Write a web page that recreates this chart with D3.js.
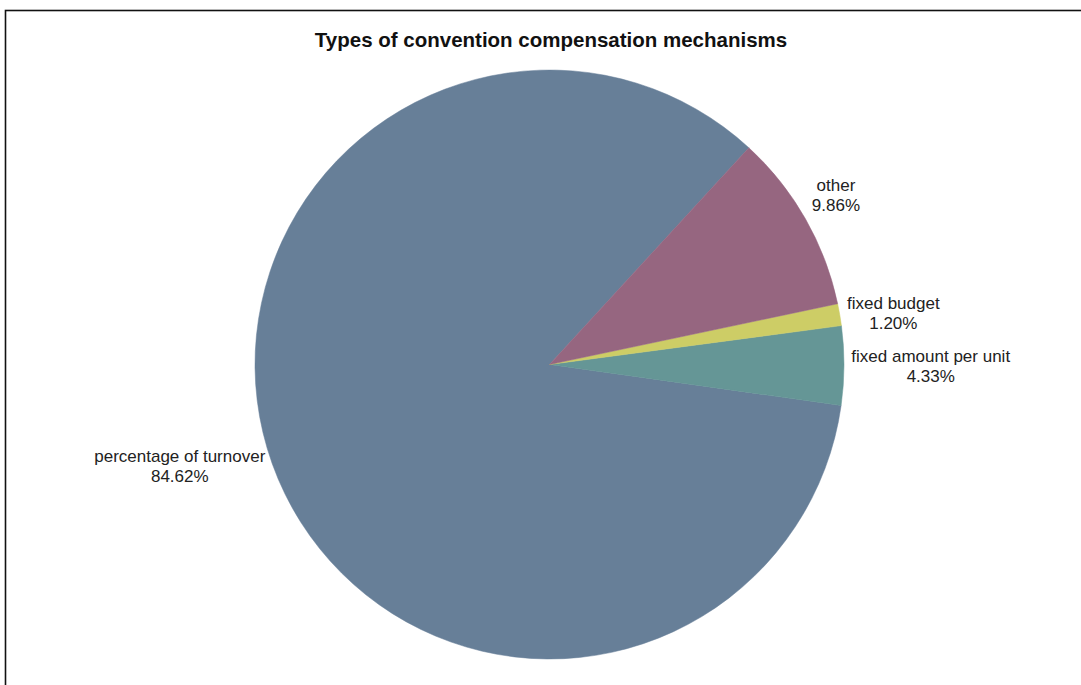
<!DOCTYPE html>
<html>
<head>
<meta charset="utf-8">
<script src="https://cdn.jsdelivr.net/npm/d3@7"></script>
<style>
  html, body { margin: 0; padding: 0; background: #fff; }
  svg { display: block; }
</style>
</head>
<body>
<svg id="chart" width="1081" height="685"></svg>
<script>
const title = "Types of convention compensation mechanisms";
const categories = ["percentage of turnover", "fixed amount per unit", "fixed budget", "other"];
const values = [84.62, 4.33, 1.20, 9.86];
const colors = ["#677f98", "#659696", "#cdcd66", "#966680"];

const W = 1081, H = 685;
const svg = d3.select("#chart");

// frame
svg.append("rect")
  .attr("x", 5.5).attr("y", 10.5)
  .attr("width", W + 20).attr("height", H + 20)
  .attr("fill", "none").attr("stroke", "#111").attr("stroke-width", 1.6);

svg.append("text")
  .attr("x", 551).attr("y", 47)
  .attr("text-anchor", "middle")
  .attr("font-family", "Liberation Sans, Arial, sans-serif")
  .attr("font-weight", "bold")
  .attr("font-size", 20.5)
  .attr("fill", "#111")
  .text(title);

const cx = 549.5, cy = 364.5, r = 294.5;
const deg = Math.PI / 180;
const start = 42.6 * deg;

const data = categories.map((c, i) => ({ cat: c, value: values[i], color: colors[i] }));
const pie = d3.pie().sort(null).value(d => d.value)
  .startAngle(start).endAngle(start - 2 * Math.PI);
const arcs = pie(data);
const arc = d3.arc().innerRadius(0).outerRadius(r);

const g = svg.append("g").attr("transform", `translate(${cx},${cy})`);
g.selectAll("path").data(arcs).enter().append("path")
  .attr("d", arc)
  .attr("fill", d => d.data.color)
  .attr("stroke", d => d.data.color)
  .attr("stroke-width", 0.5);

const labelR = r * 1.025;
const fmt = d3.format(".2f");
const lineH = 20;
arcs.forEach(a => {
  const mid = (a.startAngle + a.endAngle) / 2;
  const sx = Math.sin(mid), cyv = -Math.cos(mid);
  const x = labelR * sx;
  let y = labelR * cyv;
  if (a.data.cat === "other") y -= 20;
  const t = g.append("text")
    .attr("font-family", "Liberation Sans, Arial, sans-serif")
    .attr("font-size", 17)
    .attr("fill", "#222");
  const l1 = t.append("tspan").text(a.data.cat);
  const l2 = t.append("tspan").text(fmt(a.data.value) + "%");
  const w = Math.max(l1.node().getComputedTextLength(), l2.node().getComputedTextLength());
  const centerX = sx >= 0 ? x + w / 2 : x - w / 2;
  l1.attr("x", centerX).attr("y", y - lineH / 2 + 6).attr("text-anchor", "middle");
  l2.attr("x", centerX).attr("y", y + lineH / 2 + 6).attr("text-anchor", "middle");
});
</script>
</body>
</html>
